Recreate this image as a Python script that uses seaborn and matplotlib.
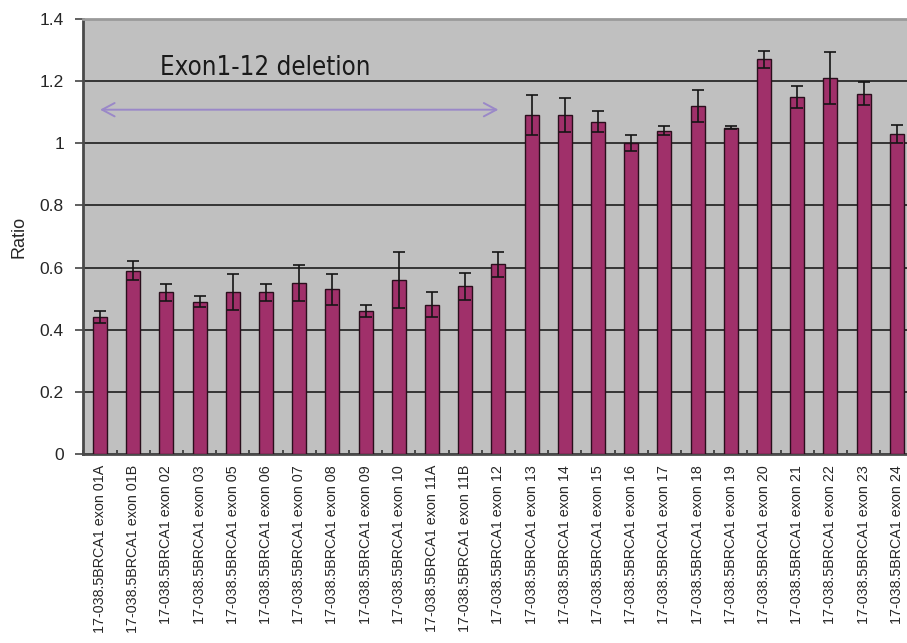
import numpy as np
import pandas as pd
import matplotlib
matplotlib.use("Agg")
import matplotlib.pyplot as plt
from matplotlib.patches import ArrowStyle
from matplotlib.ticker import FuncFormatter
import seaborn as sns

# Exon labels and measured copy-number ratios (mean and error)
exons = ["01A", "01B", "02", "03", "05", "06", "07", "08", "09", "10",
         "11A", "11B", "12", "13", "14", "15", "16", "17", "18", "19",
         "20", "21", "22", "23", "24"]
ratio = [0.44, 0.59, 0.52, 0.49, 0.52, 0.52, 0.55, 0.53, 0.46, 0.56,
         0.48, 0.54, 0.61, 1.09, 1.09, 1.07, 1.00, 1.04, 1.12, 1.05,
         1.27, 1.15, 1.21, 1.16, 1.03]
ratio_err = [0.02, 0.03, 0.027, 0.017, 0.058, 0.027, 0.057, 0.05, 0.019, 0.09,
             0.04, 0.043, 0.04, 0.065, 0.055, 0.035, 0.025, 0.015, 0.05, 0.005,
             0.027, 0.035, 0.085, 0.037, 0.028]
sample_prefix = "17-038.5BRCA1 exon "
y_ticks = [0, 0.2, 0.4, 0.6, 0.8, 1.0, 1.2, 1.4]
deletion_label = "Exon1-12 deletion"
deletion_first, deletion_last = "01A", "12"

labels = [sample_prefix + e for e in exons]
df = pd.DataFrame({"label": labels, "ratio": ratio, "err": ratio_err})

sns.set_style("white")
plt.rcParams["font.family"] = ["Liberation Sans", "DejaVu Sans"]

fig = plt.figure(figsize=(9.07, 6.43), dpi=100)
ax = fig.add_axes([0.092, 0.294, 0.915, 0.6765])
ax.set_facecolor("#c0c0c0")

sns.barplot(data=df, x="label", y="ratio", color="#a0306a", saturation=1,
            width=0.42, edgecolor="#2a0e1c", linewidth=1.0, errorbar=None,
            ax=ax, zorder=3)

pos = np.arange(len(df))
ax.errorbar(pos, df["ratio"], yerr=df["err"], fmt="none", ecolor="#151515",
            elinewidth=1.2, capsize=4, capthick=1.2, zorder=4)

# Axis ranges, grid and ticks
ax.set_xlim(-0.5, len(df) - 0.5)
ax.set_ylim(0, 1.4)
ax.set_yticks(y_ticks)
ax.yaxis.set_major_formatter(FuncFormatter(lambda v, _: f"{v:g}"))
ax.yaxis.grid(True, color="#353535", linewidth=1.4, zorder=1)
ax.xaxis.grid(False)
ax.set_axisbelow(True)

ax.set_xticks(pos)
ax.set_xticklabels(labels, rotation=90, fontsize=10.3)
ax.set_xticks(np.arange(-0.5, len(df), 1.0), minor=True)
ax.tick_params(axis="x", which="major", length=0, pad=8)
ax.tick_params(axis="x", which="minor", direction="in", length=3,
               width=1.2, color="#333333", bottom=True)
ax.tick_params(axis="y", which="major", direction="out", length=6,
               width=1.2, color="#444444", labelsize=12.5, pad=8, left=True)

ax.set_xlabel("")
ax.set_ylabel("Ratio", fontsize=13, labelpad=9)

for side in ["left", "bottom"]:
    ax.spines[side].set_color("#4a4a4a")
    ax.spines[side].set_linewidth(2.0)
ax.spines["top"].set_color("#9a9a9a")
ax.spines["top"].set_linewidth(2.0)
ax.spines["right"].set_visible(False)

# Deleted region marker spanning the affected exons
i0, i1 = exons.index(deletion_first), exons.index(deletion_last)
ax.annotate("", xy=(i1, 1.108), xytext=(i0, 1.108),
            arrowprops=dict(arrowstyle=ArrowStyle("<->", head_length=0.45,
                                                  head_width=0.24),
                            color="#9a88c8", lw=1.4, mutation_scale=20,
                            shrinkA=0, shrinkB=0),
            zorder=5)
ax.text(1.8, 1.219, deletion_label, fontsize=18.5, va="baseline", ha="left",
        family="DejaVu Sans", fontstretch="condensed",
        color="#1a1a1a", zorder=5)

fig.savefig("out.png", dpi=100)
